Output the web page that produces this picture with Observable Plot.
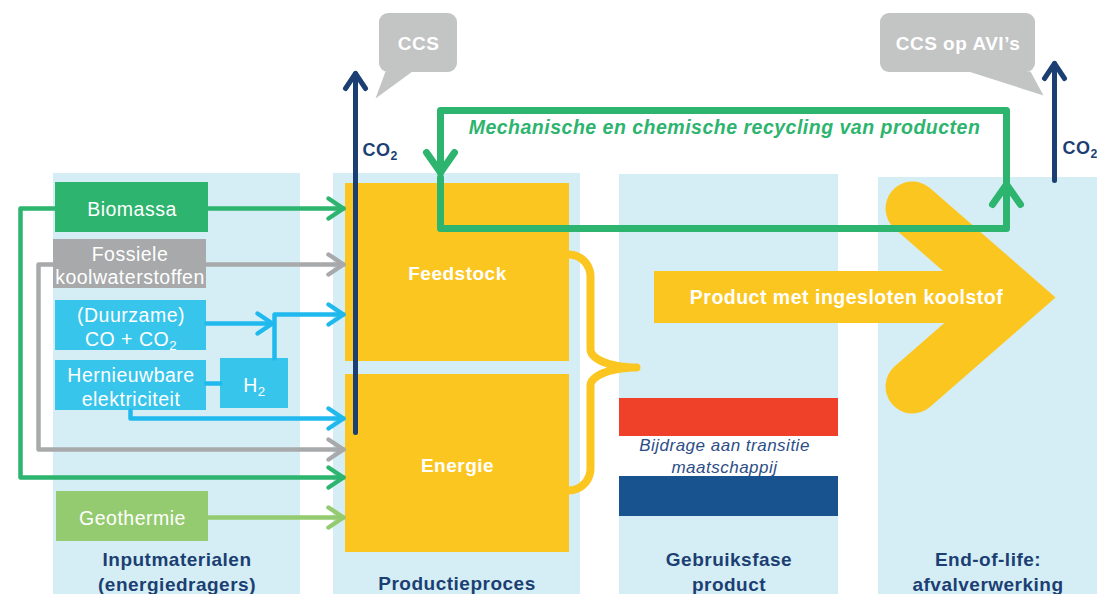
<!DOCTYPE html>
<html><head><meta charset="utf-8">
<script src="https://cdn.jsdelivr.net/npm/d3@7"></script>
<script src="https://cdn.jsdelivr.net/npm/@observablehq/plot@0.6"></script>
<style>
html,body{margin:0;padding:0;background:#fff;}
#chart svg{display:block;}
#chart text{letter-spacing:0.5px;}
</style></head><body><div id="chart"></div>
<script>
// ---------- content (texts) ----------
const columnLabels = ["Inputmaterialen\n(energiedragers)", "Productieproces", "Gebruiksfase\nproduct", "End-of-life:\nafvalverwerking"];
const inputLabels = ["Biomassa", "Fossiele\nkoolwaterstoffen", "(Duurzame)\nCO + CO₂", "Hernieuwbare\nelektriciteit", "H₂", "Geothermie"];
const processLabels = ["Feedstock", "Energie"];
const productLabel = "Product met ingesloten koolstof";
const recyclingLabel = "Mechanische en chemische recycling van producten";
const transitionLabel = "Bijdrage aan transitie\nmaatschappij";
const ccsLabels = ["CCS", "CCS op AVI’s"];
const emissionLabel = "CO₂";

// ---------- layout (diagram space = pixels) ----------
const W = 1097, H = 594;
const C = {bg:"#d5eef5", yellow:"#fcc621", green:"#2db46e", grey:"#a7a9ab", cyan:"#38c5ec", cyanLine:"#1fb9ee",
  geo:"#95cb70", navy:"#1c3f73", red:"#ef402a", blue:"#18538f", bubble:"#c3c4c4", text2:"#2c4e86"};

const colX = [[53,300],[333,580],[619,838],[878,1097]];
const colTop = [173,173,174,177];
const colLabelY = [570,582,570,570];
const columns = columnLabels.map((t,i)=>({text:t, x1:colX[i][0], x2:colX[i][1], y1:colTop[i], y2:H, cx:(colX[i][0]+colX[i][1])/2, cy:colLabelY[i]}));

const inputBoxLayout = [
  [55,208,182,232,C.green],[53,206,239,288,C.grey],[55,206,300,350,C.cyan],
  [55,206,360,410,C.cyan],[220,288,358,408,C.cyan],[56,208,491,541,C.geo]];
const inputs = inputLabels.map((t,i)=>{const [x1,x2,y1,y2,f]=inputBoxLayout[i];return {text:t,x1,x2,y1,y2,fill:f,cx:(x1+x2)/2,cy:(y1+y2)/2+1};});

const procLayout = [[345,569,183,361],[345,569,374,552]];
const procs = processLabels.map((t,i)=>{const [x1,x2,y1,y2]=procLayout[i];return {text:t,x1,x2,y1,y2,cx:(x1+x2)/2,cy:i===0?273:465};});

const flagStripes = [{y1:398,y2:436,fill:C.red},{y1:436,y2:476,fill:"#ffffff"},{y1:476,y2:516,fill:C.blue}].map(d=>({...d,x1:619,x2:838}));

const flows = [
  {stroke:C.green, pts:[[208,208],[343,208]], head:true},
  {stroke:C.green, pts:[[55,208],[20,208],[20,477],[343,477]], head:true},
  {stroke:C.grey, pts:[[206,264],[343,264]], head:true},
  {stroke:C.grey, pts:[[53,264],[38,264],[38,449],[343,449]], head:true},
  {stroke:C.cyanLine, pts:[[206,323],[272,323]], head:true},
  {stroke:C.cyanLine, pts:[[274,358],[274,314],[343,314]], head:true},
  {stroke:C.cyanLine, pts:[[206,383],[220,383]], head:false},
  {stroke:C.cyanLine, pts:[[130,410],[130,418],[343,418]], head:true},
  {stroke:C.geo, pts:[[208,517],[343,517]], head:true}
];
const loop = [
  {stroke:C.green, pts:[[1006,183],[1006,110],[440,110],[440,172]], head:true},
  {stroke:C.green, pts:[[440,177],[440,228],[1006,228],[1006,184]], head:true}
];
const emissions = [
  {stroke:C.navy, pts:[[355,432],[355,73]], head:true},
  {stroke:C.navy, pts:[[1054,180],[1054,63]], head:true}
];

function head(pts, L, w){
  const [x2,y2]=pts[pts.length-1],[x1,y1]=pts[pts.length-2];
  const dx=x2-x1, dy=y2-y1, len=Math.hypot(dx,dy), ux=dx/len, uy=dy/len;
  const bx=x2-ux*L, by=y2-uy*L;
  return [[bx-uy*w, by+ux*w],[x2,y2],[bx+uy*w, by-ux*w]];
}
function rows(paths, L, w, prefix){
  const out=[];
  paths.forEach((p,i)=>{
    p.pts.forEach(([x,y])=>out.push({id:prefix+i,x,y,stroke:p.stroke}));
    if(p.head) head(p.pts,L,w).forEach(([x,y])=>out.push({id:prefix+i+"h",x,y,stroke:p.stroke}));
  });
  return out;
}
function arc(cx,cy,rx,ry,a0,a1,n=14){
  const r=[];for(let t=0;t<=n;t++){const a=(a0+(a1-a0)*t/n)*Math.PI/180;r.push([cx+rx*Math.cos(a),cy+ry*Math.sin(a)]);}return r;
}
const bracePts = [...arc(568,276,22,22,-90,0),...arc(636,349,46,18,180,90),...arc(636,385,46,18,-90,-180),...arc(568,468,22,22,0,90)]
  .map(([x,y])=>({x,y}));

const chevron = [[912,208],[1014,297],[912,386]].map(([x,y])=>({x,y}));
const productBar = [{x1:654,x2:1000,y1:271,y2:323}];

const bubbles = [{x1:379,x2:457,y1:13,y2:72,text:ccsLabels[0]},{x1:880,x2:1035,y1:13,y2:72,text:ccsLabels[1]}];
const tails = [
  [[385,71],[412,71],[375,98],[385,71]],
  [[968,71],[1030,71],[1043,95],[968,71]]
].flatMap((t,i)=>t.map(([x,y])=>({id:i,x,y})));
const emissionText = [{x:362,y:150},{x:1062,y:148}];

const font = "'Liberation Sans', Arial, Helvetica, sans-serif";

const plot = Plot.plot({
  width: W, height: H, margin: 0,
  x: {type:"linear", domain:[0,W], range:[0,W], axis:null},
  y: {type:"linear", domain:[0,H], range:[0,H], axis:null},
  color: {type:"identity"},
  style: {fontFamily: font, background:"#fff", overflow:"visible"},
  marks: [
    Plot.rect(columns, {x1:"x1", x2:"x2", y1:"y1", y2:"y2", fill:C.bg}),
    Plot.rect(flagStripes, {x1:"x1", x2:"x2", y1:"y1", y2:"y2", fill:"fill"}),
    Plot.rect(procs, {x1:"x1", x2:"x2", y1:"y1", y2:"y2", fill:C.yellow}),
    Plot.rect(productBar, {x1:"x1", x2:"x2", y1:"y1", y2:"y2", fill:C.yellow}),
    Plot.line(chevron, {x:"x", y:"y", stroke:C.yellow, strokeWidth:54, strokeLinecap:"round", strokeLinejoin:"miter", strokeMiterlimit:4}),
    Plot.line(bracePts, {x:"x", y:"y", stroke:C.yellow, strokeWidth:8, strokeLinecap:"round", strokeLinejoin:"round"}),
    Plot.rect(inputs, {x1:"x1", x2:"x2", y1:"y1", y2:"y2", fill:"fill"}),
    Plot.line(rows(flows,15,10,"f"), {x:"x", y:"y", z:"id", stroke:"stroke", strokeWidth:4.5, strokeLinecap:"round", strokeLinejoin:"round"}),
    Plot.line(rows(emissions,15,10,"e"), {x:"x", y:"y", z:"id", stroke:"stroke", strokeWidth:5, strokeLinecap:"round", strokeLinejoin:"round"}),
    Plot.line(rows(loop,20,14,"l"), {x:"x", y:"y", z:"id", stroke:"stroke", strokeWidth:7, strokeLinecap:"round", strokeLinejoin:"round"}),
    Plot.line(tails, {x:"x", y:"y", z:"id", fill:C.bubble, stroke:"none"}),
    Plot.rect(bubbles, {x1:"x1", x2:"x2", y1:"y1", y2:"y2", fill:C.bubble, rx:9}),
    Plot.text(bubbles, {x:d=>(d.x1+d.x2)/2, y:d=>(d.y1+d.y2)/2+1, text:"text", fill:"white", fontSize:19, fontWeight:"bold"}),
    Plot.text(inputs, {x:"cx", y:"cy", text:"text", fill:"white", fontSize:19.5, lineHeight:1.2}),
    Plot.text(procs, {x:"cx", y:"cy", text:"text", fill:"white", fontSize:19, fontWeight:"bold"}),
    Plot.text([productLabel], {x:()=>846, y:()=>297, text:d=>d, fill:"white", fontSize:19.5, fontWeight:"bold"}),
    Plot.text([recyclingLabel], {x:()=>724, y:()=>127, text:d=>d, fill:C.green, fontSize:19.5, fontWeight:"bold", fontStyle:"italic"}),
    Plot.text([transitionLabel], {x:()=>724, y:()=>454, text:d=>d, fill:C.text2, fontSize:17, fontStyle:"italic", lineHeight:1.3}),
    Plot.text(emissionText, {x:"x", y:"y", text:()=>emissionLabel, fill:C.navy, fontSize:18, fontWeight:"bold", textAnchor:"start"}),
    Plot.text(columns, {x:"cx", y:"cy", text:"text", fill:C.navy, fontSize:19, fontWeight:"bold", lineHeight:1.3})
  ]
});

// render the subscript "₂" as a real lowered, smaller 2
(function subscripts(root){
  const walker = document.createTreeWalker(root, NodeFilter.SHOW_TEXT);
  const nodes = [];
  while (walker.nextNode()) if (walker.currentNode.nodeValue.includes("₂")) nodes.push(walker.currentNode);
  for (const n of nodes) {
    const parts = n.nodeValue.split("₂");
    const parent = n.parentNode;
    const frag = document.createDocumentFragment();
    parts.forEach((p,i)=>{
      if (p) frag.appendChild(document.createTextNode(p));
      if (i < parts.length-1) {
        const t = document.createElementNS("http://www.w3.org/2000/svg","tspan");
        t.setAttribute("dy","0.3em"); t.setAttribute("font-size","68%"); t.textContent = "2";
        frag.appendChild(t);
      }
    });
    parent.replaceChild(frag, n);
  }
})(plot);
document.getElementById("chart").appendChild(plot);
</script></body></html>
